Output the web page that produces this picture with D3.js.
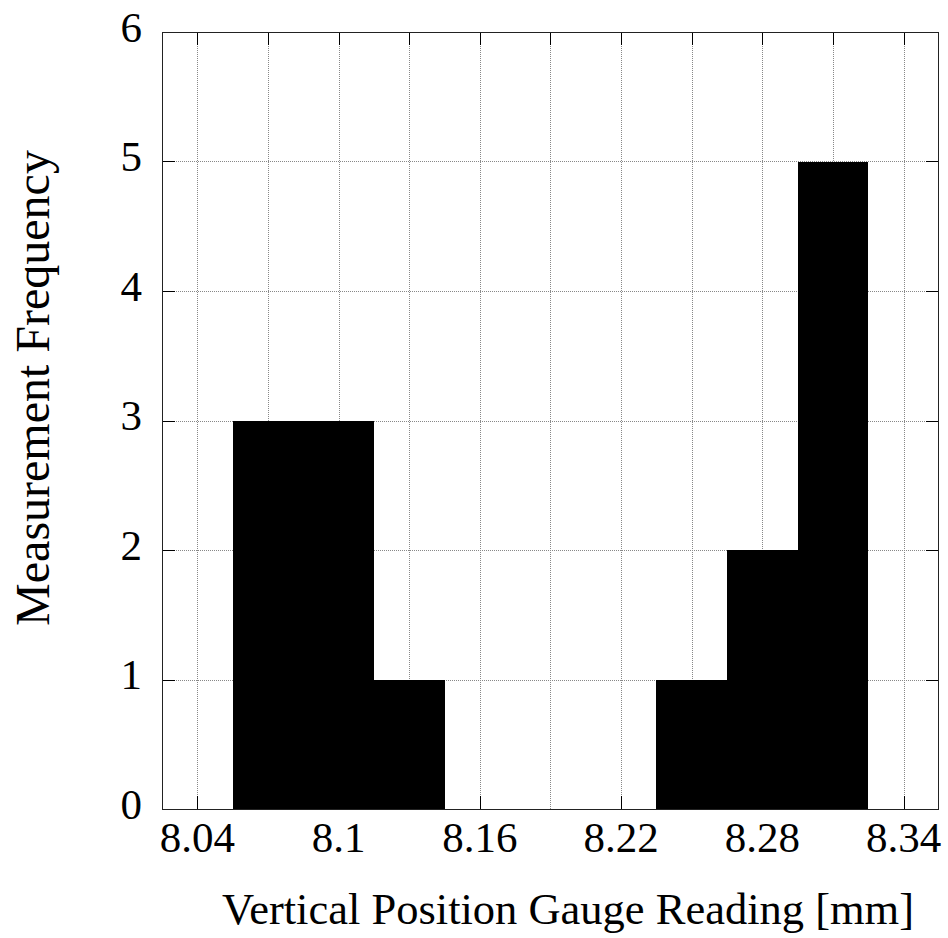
<!DOCTYPE html>
<html>
<head>
<meta charset="utf-8">
<script src="https://cdn.jsdelivr.net/npm/d3@7"></script>
<style>
    body { margin: 0; background: #fff; }
    svg text { font-family: "Liberation Serif", "Times New Roman", serif; fill: #000; }
</style>
</head>
<body>
<svg id="chart"></svg>
<script>
// histogram bins: left edges, right edges, counts
const binLeft = [8.055, 8.085, 8.115, 8.145, 8.175, 8.205, 8.235, 8.265, 8.295];
const binRight = [8.085, 8.115, 8.145, 8.175, 8.205, 8.235, 8.265, 8.295, 8.325];
const counts = [3, 3, 1, 0, 0, 0, 1, 2, 5];

const xMajorTicks = [8.04, 8.10, 8.16, 8.22, 8.28, 8.34];
const xMajorLabels = ["8.04", "8.1", "8.16", "8.22", "8.28", "8.34"];
const xGridTicks = [8.04, 8.07, 8.10, 8.13, 8.16, 8.19, 8.22, 8.25, 8.28, 8.31, 8.34];
const yTicks = [0, 1, 2, 3, 4, 5, 6];

const xDomain = [8.025, 8.355];
const yDomain = [0, 6];

const width = 948;
const height = 938;
const plotLeft = 162, plotRight = 939, plotTop = 32, plotBottom = 809;
const tickLen = 13;

const svg = d3.select("#chart").attr("width", width).attr("height", height);

const x = d3.scaleLinear().domain(xDomain).range([plotLeft, plotRight]);
const y = d3.scaleLinear().domain(yDomain).range([plotBottom, plotTop]);

// grid
const grid = svg.append("g")
    .attr("stroke", "#888")
    .attr("stroke-width", 1)
    .attr("stroke-dasharray", "1,1");

grid.selectAll(".vgrid")
    .data(xGridTicks)
    .join("line")
    .attr("class", "vgrid")
    .attr("x1", d => Math.round(x(d)) + 0.5)
    .attr("x2", d => Math.round(x(d)) + 0.5)
    .attr("y1", plotTop)
    .attr("y2", plotBottom);

grid.selectAll(".hgrid")
    .data(yTicks.filter(d => d > 0 && d < 6))
    .join("line")
    .attr("class", "hgrid")
    .attr("x1", plotLeft)
    .attr("x2", plotRight)
    .attr("y1", d => Math.round(y(d)) + 0.5)
    .attr("y2", d => Math.round(y(d)) + 0.5);

// bars
svg.selectAll(".bar")
    .data(counts)
    .join("rect")
    .attr("class", "bar")
    .attr("x", (d, i) => x(binLeft[i]))
    .attr("width", (d, i) => x(binRight[i]) - x(binLeft[i]))
    .attr("y", d => y(d))
    .attr("height", d => y(0) - y(d))
    .attr("fill", "#000")
    .attr("shape-rendering", "crispEdges");

// ticks
const ticks = svg.append("g").attr("stroke", "#000").attr("stroke-width", 1);

ticks.selectAll(".xb")
    .data(xMajorTicks)
    .join("line")
    .attr("class", "xb")
    .attr("x1", d => Math.round(x(d)) + 0.5)
    .attr("x2", d => Math.round(x(d)) + 0.5)
    .attr("y1", plotBottom)
    .attr("y2", plotBottom - tickLen);

ticks.selectAll(".xt")
    .data(xGridTicks)
    .join("line")
    .attr("class", "xt")
    .attr("x1", d => Math.round(x(d)) + 0.5)
    .attr("x2", d => Math.round(x(d)) + 0.5)
    .attr("y1", plotTop)
    .attr("y2", plotTop + tickLen);

ticks.selectAll(".yl")
    .data(yTicks)
    .join("line")
    .attr("class", "yl")
    .attr("x1", plotLeft)
    .attr("x2", plotLeft + tickLen)
    .attr("y1", d => Math.round(y(d)) + 0.5)
    .attr("y2", d => Math.round(y(d)) + 0.5);

ticks.selectAll(".yr")
    .data(yTicks)
    .join("line")
    .attr("class", "yr")
    .attr("x1", plotRight)
    .attr("x2", plotRight - tickLen)
    .attr("y1", d => Math.round(y(d)) + 0.5)
    .attr("y2", d => Math.round(y(d)) + 0.5);

// border
svg.append("rect")
    .attr("x", plotLeft + 0.5)
    .attr("y", plotTop + 0.5)
    .attr("width", plotRight - plotLeft - 1)
    .attr("height", plotBottom - plotTop)
    .attr("fill", "none")
    .attr("stroke", "#222")
    .attr("stroke-width", 1);

// tick labels
svg.selectAll(".xlab")
    .data(xMajorTicks)
    .join("text")
    .attr("class", "xlab")
    .attr("x", d => x(d))
    .attr("y", plotBottom + 43)
    .attr("text-anchor", "middle")
    .attr("font-size", 43)
    .text((d, i) => xMajorLabels[i]);

svg.selectAll(".ylab")
    .data(yTicks)
    .join("text")
    .attr("class", "ylab")
    .attr("x", 142)
    .attr("y", d => y(d) + 9.5)
    .attr("text-anchor", "end")
    .attr("font-size", 43)
    .text(d => d);

// axis titles
svg.append("text")
    .attr("x", 568)
    .attr("y", 924)
    .attr("text-anchor", "middle")
    .attr("font-size", 44.5)
    .text("Vertical Position Gauge Reading [mm]");

svg.append("text")
    .attr("transform", "translate(49,388) rotate(-90)")
    .attr("text-anchor", "middle")
    .attr("font-size", 48)
    .text("Measurement Frequency");
</script>
</body>
</html>
